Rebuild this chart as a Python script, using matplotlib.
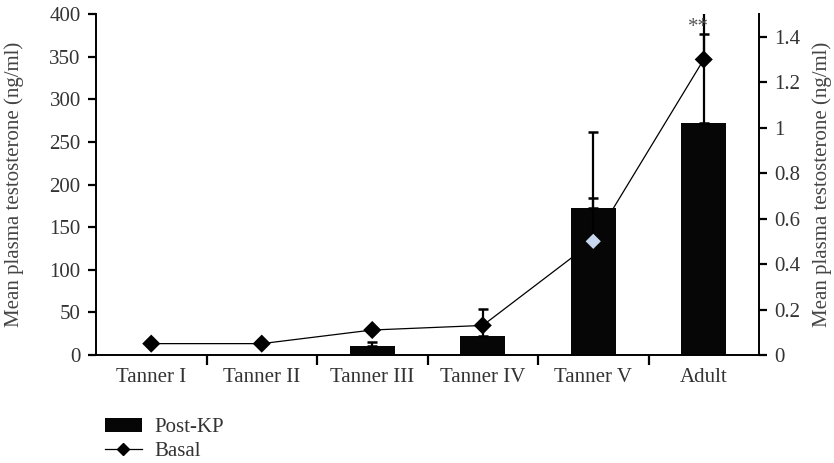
import matplotlib
matplotlib.use("Agg")
import matplotlib.pyplot as plt
from matplotlib.lines import Line2D
import numpy as np

categories = ["Tanner I", "Tanner II", "Tanner III", "Tanner IV", "Tanner V", "Adult"]
post_kp = [0, 0, 10.5, 22, 172, 272]
post_kp_err = [0, 0, 5, 32, 90, 150]
basal = [0.05, 0.05, 0.11, 0.13, 0.50, 1.30]
basal_err = [0, 0, 0, 0, 0.19, 0.11]
basal_colors = ["#000000", "#000000", "#000000", "#000000", "#c6d7ee", "#000000"]

plt.rcParams["font.family"] = ["Liberation Serif", "DejaVu Serif"]
plt.rcParams["font.size"] = 15
txt = "#333333"

fig = plt.figure(figsize=(8.34, 4.63), dpi=100)
ax = fig.add_axes([96/834, 1-355/463, (759-96)/834, (355-14)/463])
ax2 = ax.twinx()

x = np.arange(len(categories))

# connecting line, drawn behind bars (in right-axis data coords)
line, = ax.plot(x, basal, color="black", lw=0.9, transform=ax2.transData, zorder=1)

bars = ax.bar(x, post_kp, width=0.41, color="#060606", zorder=2, label="Post-KP")
ax.errorbar(x[2:], post_kp[2:], yerr=[[0]*4, post_kp_err[2:]], fmt="none",
            ecolor="black", elinewidth=1.6, capsize=3.5, capthick=1.8, zorder=3)

ax2.errorbar(x[4:], basal[4:], yerr=[[0, 0], basal_err[4:]], fmt="none",
             ecolor="black", elinewidth=1.6, capsize=3.5, capthick=1.8, zorder=3)
sc = ax2.scatter(x, basal, marker="D", s=[85, 85, 85, 85, 60, 85], c=basal_colors,
                 edgecolors="none", zorder=4)

ax.set_xlim(-0.5, 5.5)
ax.set_ylim(0, 400)
ax2.set_ylim(0, 1.5)
ax.set_yticks(np.arange(0, 401, 50))
ax2.set_yticks([0, 0.2, 0.4, 0.6, 0.8, 1.0, 1.2, 1.4])
ax2.set_yticklabels(["0", "0.2", "0.4", "0.6", "0.8", "1", "1.2", "1.4"])

ax.set_xticks(x)
ax.set_xticklabels(categories, color=txt)
ax.set_xticks(np.arange(0.5, 5.5, 1.0), minor=True)
ax.tick_params(axis="x", which="major", length=0, pad=9)
ax.tick_params(axis="x", which="minor", length=7, width=1.6, direction="out")
ax.tick_params(axis="y", length=6, width=1.6, direction="out", pad=5, labelcolor=txt)
ax2.tick_params(axis="y", length=6, width=1.6, direction="out", pad=5, labelcolor=txt)

for a in (ax, ax2):
    a.spines["top"].set_visible(False)
    for s in ("left", "right", "bottom"):
        a.spines[s].set_linewidth(1.4)
ax.spines["right"].set_visible(False)
ax2.spines["left"].set_visible(False)
ax2.spines["bottom"].set_visible(False)

ax.set_ylabel("Mean plasma testosterone (ng/ml)", color="#444444")
ax2.set_ylabel("Mean plasma testosterone (ng/ml)", color="#444444")
ax.yaxis.set_label_coords(-0.108, 0.5)
ax2.yaxis.set_label_coords(1.080, 0.5)

ax.text(4.95, 384, "**", ha="center", va="center", color="#555555", fontsize=15, zorder=5)

basal_handle = Line2D([], [], color="black", lw=0.9, marker="D", markersize=6.5,
                      markerfacecolor="black", markeredgecolor="black")
fig.legend([bars, basal_handle], ["Post-KP", "Basal"], loc="upper left",
           bbox_to_anchor=(88/834, 1-401/463), frameon=False, handlelength=1.8,
           handletextpad=0.6, labelspacing=0.2, labelcolor=txt, borderpad=0.3)

fig.savefig("out.png", dpi=100)
